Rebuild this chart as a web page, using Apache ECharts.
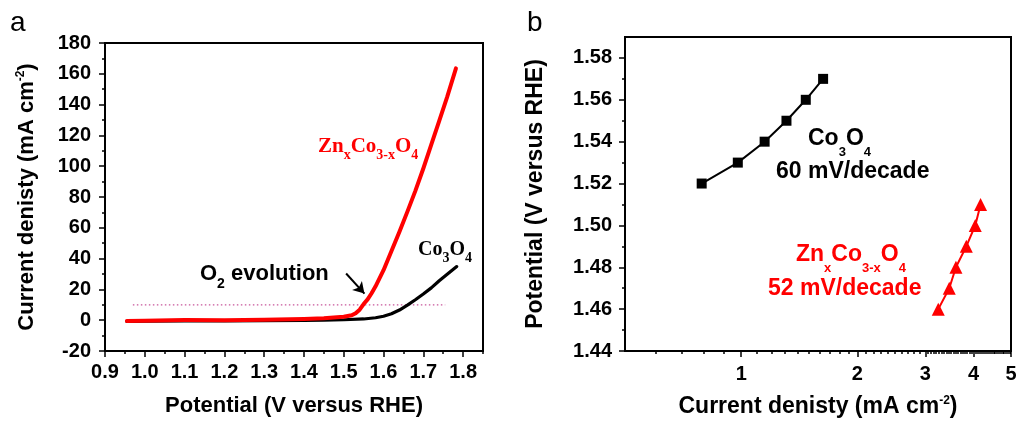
<!DOCTYPE html>
<html>
<head>
<meta charset="utf-8">
<script src="https://cdn.jsdelivr.net/npm/echarts@6/dist/echarts.min.js"></script>
<style>
  html, body { margin: 0; padding: 0; background: #fff; }
  #chart { width: 1016px; height: 422px; }
</style>
</head>
<body>
<div id="chart"></div>
<script>
// panel a: polarization curves [potential V, current density mA cm-2]
const co3o4Lsv = [
  [0.955, -0.8], [1.0, -0.6], [1.1, -0.5], [1.2, -0.4], [1.3, -0.3], [1.4, -0.1],
  [1.45, 0.1], [1.5, 0.3], [1.55, 0.8], [1.58, 1.6], [1.6, 2.6], [1.62, 4.2],
  [1.64, 6.6], [1.66, 9.8], [1.68, 13.3], [1.7, 17], [1.72, 21], [1.74, 25.6],
  [1.76, 29.8], [1.784, 34.8]
];
const znCoLsv = [
  [0.955, -0.5], [1.0, -0.3], [1.1, 0.1], [1.2, 0], [1.25, 0.1], [1.3, 0.3],
  [1.4, 0.8], [1.45, 1.2], [1.5, 2.2], [1.52, 3.2], [1.53, 4.5], [1.54, 6.8],
  [1.55, 10.5], [1.56, 13.5], [1.57, 17.5], [1.58, 22], [1.6, 32.5], [1.62, 45],
  [1.64, 57.5], [1.66, 70.5], [1.68, 84], [1.7, 98.5], [1.72, 114], [1.74, 129.5],
  [1.76, 145], [1.782, 163.5]
];
const onsetLine = [[0.97, 10], [1.755, 10]];
const arrowFrom = [1.506, 30.3];
const arrowTo = [1.552, 17.3];
const potentialTicks = [0.9, 1.0, 1.1, 1.2, 1.3, 1.4, 1.5, 1.6, 1.7, 1.8];
const potentialMinorTicks = [0.95, 1.05, 1.15, 1.25, 1.35, 1.45, 1.55, 1.65, 1.75, 1.85];

// panel b: Tafel plots [current density mA cm-2, potential V]
const co3o4Tafel = [[0.79, 1.52], [0.98, 1.53], [1.15, 1.54], [1.31, 1.55], [1.47, 1.56], [1.63, 1.57]];
const znCoTafel = [[3.24, 1.46], [3.46, 1.47], [3.6, 1.48], [3.83, 1.49], [4.04, 1.50], [4.17, 1.51]];
const currentTicks = [1, 2, 3, 4, 5];
const currentMinorTicks = [
  0.6, 0.7, 0.8, 0.9, 1.1, 1.2, 1.3, 1.4, 1.5, 1.6, 1.7, 1.8, 1.9,
  2.1, 2.2, 2.3, 2.4, 2.5, 2.6, 2.7, 2.8, 2.9,
  3.05, 3.1, 3.15, 3.2, 3.25, 3.3, 3.35, 3.4, 3.45, 3.5, 3.55, 3.6, 3.65, 3.7, 3.75, 3.8, 3.85, 3.9, 3.95,
  4.05, 4.1, 4.15, 4.2, 4.25, 4.3, 4.35, 4.4, 4.45, 4.5, 4.55, 4.6, 4.65, 4.7, 4.75, 4.8, 4.85, 4.9, 4.95
];
const tafelTicks = [1.44, 1.46, 1.48, 1.50, 1.52, 1.54, 1.56, 1.58];
const tafelMinorTicks = [1.45, 1.47, 1.49, 1.51, 1.53, 1.55, 1.57];

const SANS = "'Liberation Sans', Arial, sans-serif";
const SERIF = "'Liberation Serif', 'Times New Roman', serif";
const RED = '#ff0000';

const tickLabel = { color: '#000', fontFamily: SANS, fontWeight: 'bold', fontSize: 20 };
const tickLine = { color: '#000', width: 1.5 };

function nameRich(size) {
  return {
    m: { fontFamily: SANS, fontWeight: 'bold', fontSize: size, lineHeight: 24, color: '#000' },
    s: { fontFamily: SANS, fontWeight: 'bold', fontSize: 12, verticalAlign: 'top', color: '#000' }
  };
}

function mainAxis(extra) {
  return Object.assign({
    nameLocation: 'middle',
    axisLine: { onZero: false, lineStyle: { color: '#000', width: 2 } },
    splitLine: { show: false }
  }, extra);
}
function minorAxis(extra) {
  return Object.assign({
    axisLine: { show: false, onZero: false },
    axisLabel: { show: false },
    splitLine: { show: false }
  }, extra);
}

// rich text annotation helper: main text, subscripts
function note(x, y, text, font, size, subSize, lh, color) {
  return {
    type: 'text', x: x, y: y, silent: true,
    style: {
      text: text, align: 'left', verticalAlign: 'middle',
      rich: {
        m: { fontFamily: font, fontWeight: 'bold', fontSize: size, lineHeight: lh, fill: color },
        b: { fontFamily: font, fontWeight: 'bold', fontSize: subSize, verticalAlign: 'bottom', fill: color }
      }
    }
  };
}

const chart = echarts.init(document.getElementById('chart'));
chart.setOption({
  animation: false,
  backgroundColor: '#fff',
  grid: [
    { left: 105, right: 533, top: 43, bottom: 71, show: true, borderColor: '#000', borderWidth: 2, outerBoundsMode: 'none' },
    { left: 625, right: 5, top: 37, bottom: 71, show: true, borderColor: '#000', borderWidth: 2, outerBoundsMode: 'none' }
  ],
  xAxis: [
    mainAxis({
      gridIndex: 0, type: 'value', position: 'bottom', min: 0.9, max: 1.85,
      name: 'Potential (V versus RHE)', nameGap: 44,
      nameTextStyle: { color: '#000', fontFamily: SANS, fontWeight: 'bold', fontSize: 22 },
      axisTick: { customValues: potentialTicks, length: 6, lineStyle: tickLine },
      axisLabel: Object.assign({ customValues: potentialTicks, margin: 11, formatter: v => v.toFixed(1) }, tickLabel)
    }),
    minorAxis({
      gridIndex: 0, type: 'value', position: 'bottom', min: 0.9, max: 1.85,
      axisTick: { customValues: potentialMinorTicks, length: 3, lineStyle: tickLine }
    }),
    mainAxis({
      gridIndex: 1, type: 'log', logBase: 10, position: 'bottom', min: 0.5, max: 5,
      name: '{m|Current denisty (mA cm}{s|-2}{m|)}', nameGap: 44,
      nameTextStyle: { rich: nameRich(23) },
      axisTick: { customValues: currentTicks, length: 6, lineStyle: tickLine },
      axisLabel: Object.assign({ customValues: currentTicks, margin: 13, formatter: v => String(Math.round(v)) }, tickLabel)
    }),
    minorAxis({
      gridIndex: 1, type: 'log', logBase: 10, position: 'bottom', min: 0.5, max: 5,
      axisTick: { customValues: currentMinorTicks, length: 3, lineStyle: tickLine }
    })
  ],
  yAxis: [
    mainAxis({
      gridIndex: 0, type: 'value', position: 'left', min: -20, max: 180, interval: 20,
      name: '{m|Current denisty (mA cm}{s|-2}{m|)}', nameGap: 66,
      nameTextStyle: { rich: nameRich(22) },
      axisTick: { length: 6, lineStyle: tickLine },
      minorTick: { show: true, splitNumber: 2, length: 3, lineStyle: tickLine },
      axisLabel: Object.assign({ margin: 14 }, tickLabel)
    }),
    mainAxis({
      gridIndex: 1, type: 'value', position: 'left', min: 1.44, max: 1.59,
      name: 'Potential (V versus RHE)', nameGap: 78,
      nameTextStyle: { color: '#000', fontFamily: SANS, fontWeight: 'bold', fontSize: 23 },
      axisTick: { customValues: tafelTicks, length: 6, lineStyle: tickLine },
      axisLabel: Object.assign({ customValues: tafelTicks, margin: 13, formatter: v => v.toFixed(2) }, tickLabel)
    }),
    minorAxis({
      gridIndex: 1, type: 'value', position: 'left', min: 1.44, max: 1.59,
      axisTick: { customValues: tafelMinorTicks, length: 3, lineStyle: tickLine }
    })
  ],
  series: [
    {
      name: 'onset', type: 'line', xAxisIndex: 0, yAxisIndex: 0, data: onsetLine,
      symbol: 'none', silent: true,
      lineStyle: { color: '#c8559a', width: 1.2, type: [1.5, 2.5] },
      markLine: {
        silent: true, symbol: ['none', 'arrow'], symbolSize: [10, 11],
        label: { show: false },
        lineStyle: { color: '#000', width: 2, type: 'solid' },
        data: [[{ coord: arrowFrom }, { coord: arrowTo }]]
      }
    },
    {
      name: 'Co3O4', type: 'line', xAxisIndex: 0, yAxisIndex: 0, data: co3o4Lsv,
      symbol: 'none', lineStyle: { color: '#000', width: 3.2, join: 'round', cap: 'round' }
    },
    {
      name: 'ZnxCo3-xO4', type: 'line', xAxisIndex: 0, yAxisIndex: 0, data: znCoLsv,
      symbol: 'none', lineStyle: { color: RED, width: 4, join: 'round', cap: 'round' }
    },
    {
      name: 'Co3O4 Tafel', type: 'line', xAxisIndex: 2, yAxisIndex: 1, data: co3o4Tafel,
      symbol: 'rect', symbolSize: 10, itemStyle: { color: '#000' },
      lineStyle: { color: '#000', width: 2 }
    },
    {
      name: 'ZnxCo3-xO4 Tafel', type: 'line', xAxisIndex: 2, yAxisIndex: 1, data: znCoTafel,
      symbol: 'triangle', symbolSize: 13, itemStyle: { color: RED },
      lineStyle: { color: RED, width: 2 }
    }
  ],
  graphic: [
    { type: 'text', x: 10, y: 23, silent: true,
      style: { text: 'a', font: '28px ' + SANS, fill: '#000', align: 'left', verticalAlign: 'middle' } },
    { type: 'text', x: 527, y: 23, silent: true,
      style: { text: 'b', font: '28px ' + SANS, fill: '#000', align: 'left', verticalAlign: 'middle' } },
    note(318, 147, '{m|Zn}{b|x}{m|Co}{b|3-x}{m|O}{b|4}', SERIF, 21, 14, 31, RED),
    note(418, 250, '{m|Co}{b|3}{m|O}{b|4}', SERIF, 20, 14, 30, '#000'),
    note(200, 274, '{m|O}{b|2}{m| evolution}', SANS, 22, 14, 34, '#000'),
    note(808, 139, '{m|Co}{b|3}{m|O}{b|4}', SANS, 23, 13, 39, '#000'),
    note(776, 172, '{m|60 mV/decade}', SANS, 23, 13, 23, '#000'),
    note(796, 255, '{m|Zn}{b|x}{m|Co}{b|3-x}{m|O}{b|4}', SANS, 23, 13, 39, RED),
    note(768, 289, '{m|52 mV/decade}', SANS, 23, 13, 23, RED)
  ]
});
</script>
</body>
</html>
